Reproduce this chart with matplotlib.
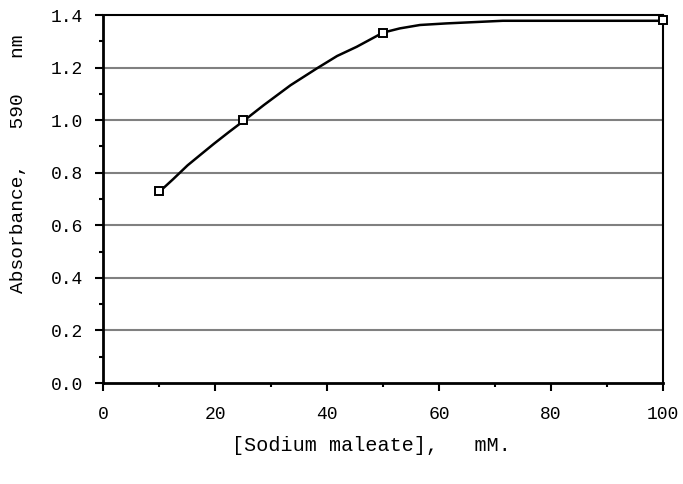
import matplotlib.pyplot as plt
from matplotlib.ticker import MultipleLocator

# fitted curve
curve_x = [10.2, 12.5, 15.1, 17.5, 19.8, 22.5, 25.1, 28.7, 33.5, 38.2, 41.8, 45.3, 50.0, 53.0, 56.6, 61.3, 71.4, 100]
curve_y = [0.730, 0.775, 0.828, 0.870, 0.910, 0.955, 0.997, 1.057, 1.133, 1.197, 1.244, 1.279, 1.333, 1.349, 1.362, 1.368, 1.378, 1.378]

# measured points
conc = [10, 25, 50, 100]
absorb = [0.73, 1.0, 1.333, 1.38]

xticks = [0, 20, 40, 60, 80, 100]
yticks = [0.0, 0.2, 0.4, 0.6, 0.8, 1.0, 1.2, 1.4]

plt.rcParams['font.family'] = ['Liberation Mono', 'DejaVu Sans Mono']

fig = plt.figure(figsize=(6.83, 4.84), dpi=100)
ax = fig.add_axes([103 / 683, 1 - 383 / 484, 560 / 683, 368 / 484])

for v in yticks[1:-1]:
    ax.axhline(v, color='#808080', linewidth=1.5, zorder=1)

ax.plot(curve_x, curve_y, color='black', linewidth=1.8, zorder=3)
ax.plot(conc, absorb, linestyle='none', marker='s', markersize=5.5,
        markerfacecolor='white', markeredgecolor='black', markeredgewidth=1.4,
        zorder=4, clip_on=False)

ax.set_xlim(0, 100)
ax.set_ylim(0, 1.4)
ax.set_xticks(xticks)
ax.set_yticks(yticks)
ax.set_xticklabels([str(t) for t in xticks])
ax.set_yticklabels([f'{t:.1f}' for t in yticks])
ax.xaxis.set_minor_locator(MultipleLocator(10))
ax.yaxis.set_minor_locator(MultipleLocator(0.1))
ax.tick_params(which='major', direction='out', length=5.5, width=1.5, labelsize=13, color='black')
ax.tick_params(axis='x', which='major', pad=11)
ax.tick_params(axis='y', which='major', pad=9)
ax.tick_params(which='minor', direction='out', length=3, width=1.5, color='black')

for side in ['left', 'bottom']:
    ax.spines[side].set_linewidth(2)
for side in ['top', 'right']:
    ax.spines[side].set_linewidth(1.5)

ax.set_xlabel('[Sodium maleate],   mM.', fontsize=14.5)
ax.xaxis.set_label_coords(0.48, -0.17)
ax.xaxis.label.set_va('center')
ax.set_ylabel('Absorbance,   590   nm', fontsize=14)
ax.yaxis.set_label_coords(-0.151, 0.595)
ax.yaxis.label.set_va('center')

fig.savefig('out.png', dpi=100)
